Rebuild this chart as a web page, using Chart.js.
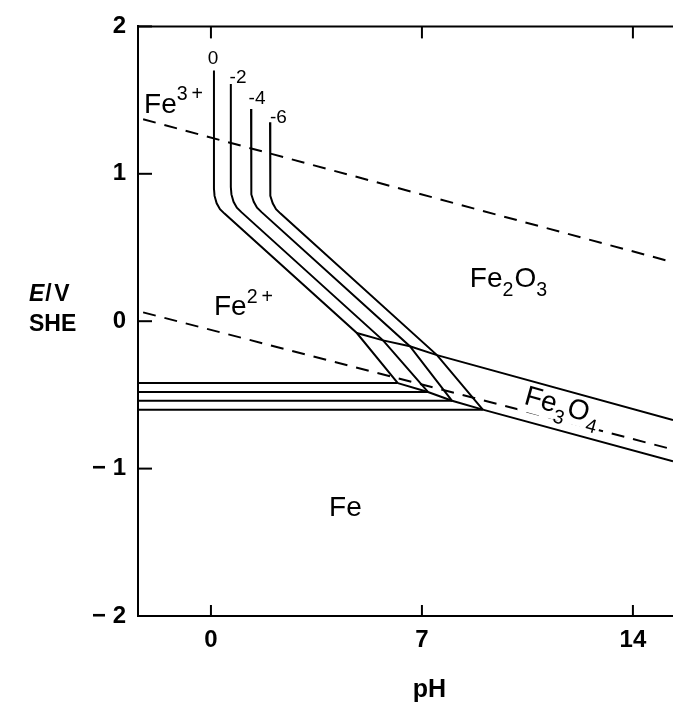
<!DOCTYPE html>
<html lang="en">
<head>
<meta charset="UTF-8">
<title>Fe - water Pourbaix diagram</title>
<script src="https://cdn.jsdelivr.net/npm/chart.js"></script>
<style>
  html, body { margin: 0; padding: 0; background: #fff; }
  #chart { display: block; }
</style>
</head>
<body>
<canvas id="chart" width="673" height="704"></canvas>
<script>
// axis ticks
const pHTicks = [0, 7, 14];
const eTicks = [-2, -1, 0, 1, 2];

// log10 of the Fe ion activity for each family of lines
const concLabels = ['0', '-2', '-4', '-6'];

// Fe3+/Fe2+ vertical, bend, Fe2+/Fe2O3, Fe2+/Fe3O4  [pH, E]
const curve0  = [[0.10, 1.70], [0.10, 0.90], [0.12, 0.85], [0.19, 0.80], [0.30, 0.76], [0.45, 0.73], [4.84, -0.08], [6.20, -0.42]];
const curveM2 = [[0.66, 1.61], [0.66, 0.91], [0.68, 0.86], [0.75, 0.81], [0.86, 0.77], [1.01, 0.74], [5.71, -0.13], [7.20, -0.48]];
const curveM4 = [[1.33, 1.44], [1.33, 0.91], [1.35, 0.86], [1.42, 0.81], [1.53, 0.77], [1.68, 0.74], [6.60, -0.17], [8.00, -0.54]];
const curveM6 = [[1.96, 1.35], [1.96, 0.90], [1.98, 0.85], [2.05, 0.80], [2.16, 0.76], [2.31, 0.73], [7.50, -0.23], [9.02, -0.60]];

// Fe2+/Fe levels and the pH where each meets the Fe3O4 line
const feLevels = [-0.42, -0.48, -0.54, -0.60];
const feLevelEnds = [6.20, 7.20, 8.00, 9.02];

const fe2o3Fe3o4 = [[4.84, -0.08], [5.71, -0.13], [6.60, -0.17], [7.50, -0.23], [15.33, -0.67]];
const fe3o4Fe = [[6.20, -0.42], [7.20, -0.48], [8.00, -0.54], [9.02, -0.60], [15.33, -0.95]];

// water stability limits (dashed)
const oxygenLine = [[-2.25, 1.37], [15.33, 0.40]];
const hydrogenLine = [[-2.25, 0.06], [15.33, -0.87]];

const PH_MIN = -2.42, PH_MAX = 15.33;

const FONT = '"Liberation Sans", Arial, Helvetica, sans-serif';

function pts(arr) {
    return arr.map(p => ({ x: p[0], y: p[1] }));
}

function solid(arr) {
    return { data: pts(arr), showLine: true, borderColor: '#000', borderWidth: 2, pointRadius: 0, fill: false, tension: 0 };
}

function dashed(arr) {
    return { data: pts(arr), showLine: true, borderColor: '#000', borderWidth: 2, borderDash: [13, 9], pointRadius: 0, fill: false, tension: 0 };
}

let datasets = [solid(curve0), solid(curveM2), solid(curveM4), solid(curveM6)];
feLevels.forEach((e, i) => {
    datasets.push(solid([[PH_MIN, e], [feLevelEnds[i], e]]));
});
datasets.push(solid(fe2o3Fe3o4));
datasets.push(solid(fe3o4Fe));
datasets.push(dashed(oxygenLine));
datasets.push(dashed(hydrogenLine));

// label anchors [text parts, pH, E]
const chemLabels = [
    { parts: [['Fe', ''], ['3\u2009+', 'sup']], x: -2.22, y: 1.415 },
    { parts: [['Fe', ''], ['2\u2009+', 'sup']], x: 0.10, y: 0.04 },
    { parts: [['Fe', ''], ['2', 'sub'], ['O', ''], ['3', 'sub']], x: 8.59, y: 0.235 },
    { parts: [['Fe', ''], ['3', 'sub'], ['O', ''], ['4', 'sub']], x: 10.35, y: -0.56, angle: 15.6, bg: true },
    { parts: [['Fe', '']], x: 3.92, y: -1.32 }
];
const concPos = [[0.07, 1.78], [0.90, 1.65], [1.53, 1.51], [2.24, 1.38]];

function drawChem(ctx, lab, px, py, size) {
    ctx.save();
    ctx.translate(px, py);
    if (lab.angle) ctx.rotate(lab.angle * Math.PI / 180);
    ctx.textBaseline = 'alphabetic';
    ctx.textAlign = 'left';
    let w = 0;
    lab.parts.forEach(p => {
        const s = p[1] ? size * 0.7 : size;
        ctx.font = s + 'px ' + FONT;
        w += ctx.measureText(p[0]).width;
    });
    if (lab.bg) {
        ctx.fillStyle = '#fff';
        ctx.fillRect(-4, -size * 0.6, w + 8, size * 0.85);
    }
    ctx.fillStyle = '#000';
    let cx = 0;
    lab.parts.forEach(p => {
        const s = p[1] ? size * 0.7 : size;
        let dy = 0;
        if (p[1] === 'sub') dy = size * 0.34;
        if (p[1] === 'sup') dy = -size * 0.45;
        ctx.font = s + 'px ' + FONT;
        ctx.fillText(p[0], cx, dy);
        cx += ctx.measureText(p[0]).width + (p[1] ? 1 : 0);
    });
    ctx.restore();
}

const decorations = {
    id: 'decorations',
    afterDraw(chart) {
        const { ctx, chartArea, scales } = chart;
        const xs = scales.x, ys = scales.y;
        ctx.save();
        ctx.strokeStyle = '#000';
        ctx.lineWidth = 2;
        function seg(x1, y1, x2, y2) {
            ctx.beginPath();
            ctx.moveTo(x1, y1);
            ctx.lineTo(x2, y2);
            ctx.stroke();
        }
        // top frame
        seg(chartArea.left - 1, chartArea.top, chartArea.right, chartArea.top);
        // inward ticks
        pHTicks.forEach(v => {
            const px = xs.getPixelForValue(v);
            seg(px, chartArea.bottom, px, chartArea.bottom - 11);
            seg(px, chartArea.top, px, chartArea.top + 12);
        });
        eTicks.forEach(v => {
            const py = ys.getPixelForValue(v);
            seg(chartArea.left, py, chartArea.left + 14, py);
        });

        // region labels
        chemLabels.forEach(l => {
            drawChem(ctx, l, xs.getPixelForValue(l.x), ys.getPixelForValue(l.y), 28);
        });

        // concentration labels
        ctx.fillStyle = '#000';
        ctx.font = '19px ' + FONT;
        ctx.textAlign = 'center';
        ctx.textBaseline = 'middle';
        concLabels.forEach((t, i) => {
            ctx.fillText(t, xs.getPixelForValue(concPos[i][0]), ys.getPixelForValue(concPos[i][1]));
        });

        // E/V SHE axis title
        ctx.textAlign = 'left';
        ctx.textBaseline = 'alphabetic';
        const y0 = ys.getPixelForValue(0);
        ctx.font = 'italic 600 23px ' + FONT;
        ctx.fillText('E', 29, y0 - 20);
        const ew = ctx.measureText('E').width;
        ctx.font = '600 23px ' + FONT;
        ctx.fillText('/', 29 + ew + 1, y0 - 20);
        ctx.fillText('V', 29 + ew + 10, y0 - 20);
        ctx.fillText('SHE', 29, y0 + 10);

        // pH axis title
        ctx.textAlign = 'center';
        ctx.font = '600 25px ' + FONT;
        ctx.fillText('pH', xs.getPixelForValue(7.25), 697);
        ctx.restore();
    }
};

new Chart(document.getElementById('chart'), {
    type: 'scatter',
    data: { datasets: datasets },
    options: {
        responsive: false,
        animation: false,
        layout: { padding: { top: 20, right: 0, bottom: 0, left: 0 } },
        plugins: {
            legend: { display: false },
            tooltip: { enabled: false }
        },
        scales: {
            x: {
                type: 'linear',
                min: PH_MIN,
                max: PH_MAX,
                afterBuildTicks: s => { s.ticks = pHTicks.map(v => ({ value: v })); },
                afterFit: s => { s.height = 88; },
                grid: { display: true, drawOnChartArea: false, drawTicks: false },
                border: { display: true, color: '#000', width: 2 },
                ticks: { color: '#000', font: { family: FONT, size: 24, weight: '600' }, padding: 10, maxRotation: 0 }
            },
            y: {
                type: 'linear',
                min: -2,
                max: 2,
                afterBuildTicks: s => { s.ticks = eTicks.map(v => ({ value: v })); },
                afterFit: s => { s.width = 138; },
                grid: { display: true, drawOnChartArea: false, drawTicks: false },
                border: { display: true, color: '#000', width: 2 },
                ticks: {
                    color: '#000',
                    font: { family: FONT, size: 24, weight: '600' },
                    padding: 12,
                    callback: v => v < 0 ? '\u2212 ' + (-v) : String(v)
                }
            }
        }
    },
    plugins: [decorations]
});
</script>
</body>
</html>
